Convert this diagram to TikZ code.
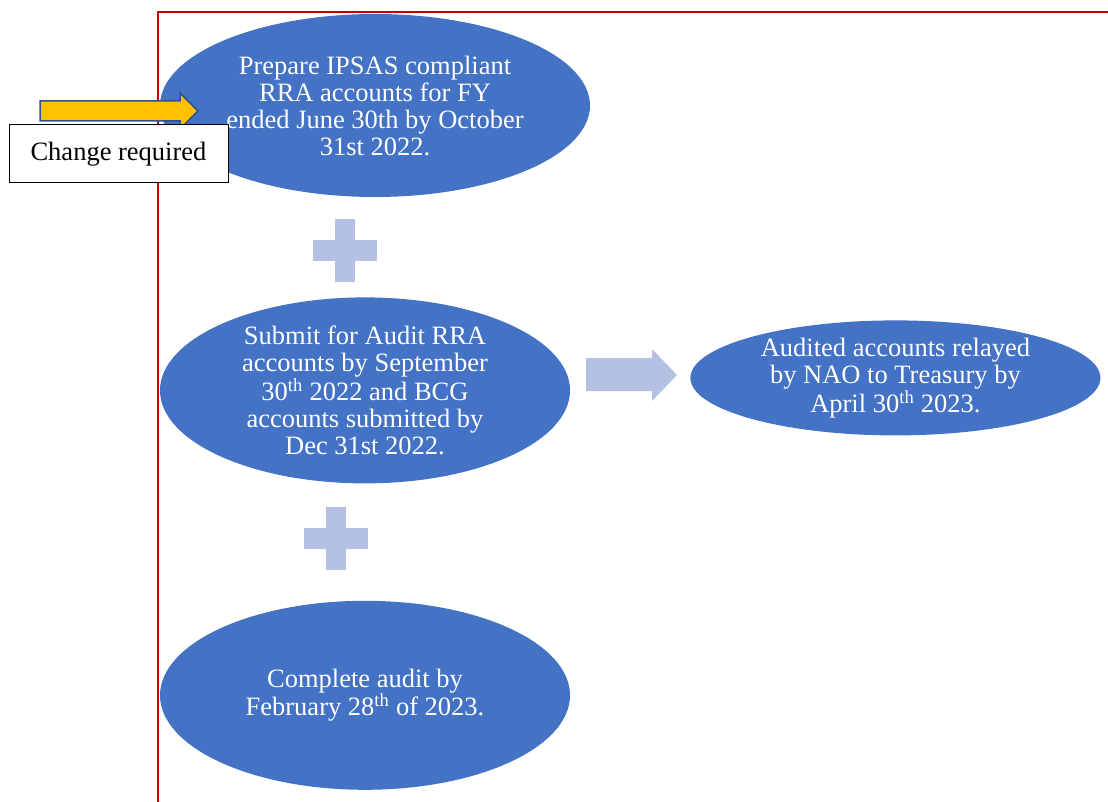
\documentclass[tikz,border=0pt]{standalone}
\usepackage{fontspec}
\setmainfont{Liberation Serif}
\usepackage{tikz}
\usetikzlibrary{shapes.geometric,positioning,calc}

\definecolor{stageblue}{HTML}{4472C4}
\definecolor{plusblue}{HTML}{B4C1E2}
\definecolor{flagyellow}{HTML}{FFC000}
\definecolor{flagedge}{HTML}{2F528F}
\definecolor{marginred}{HTML}{C00000}

\begin{document}
\begin{tikzpicture}[
  x=1pt, y=-1pt,
  stage/.style={ellipse, fill=stageblue, text=white, align=center,
    inner sep=0pt, font=\fontsize{26.5}{27}\selectfont},
  note/.style={rectangle, draw=black, fill=white, line width=1pt,
    minimum width=219pt, minimum height=58pt, inner sep=0pt,
    font=\fontsize{26.5}{27}\selectfont},
  plusmark/.pic={
    \fill[plusblue] (-32,-10.5) rectangle (32,10.5);
    \fill[plusblue] (-10,-31.5) rectangle (10,31.5);
  },
]
  \useasboundingbox (0,0) rectangle (1108,802);

  % red margin
  \draw[marginred, line width=1.5pt] (158,802) -- (158,12) -- (1108,12);

  \node[stage, minimum width=430pt, minimum height=183pt] (prepare) at (375,105.5)
    {Prepare IPSAS compliant\\RRA accounts for FY\\ended June 30th by October\\31st 2022.};
  \node[stage, minimum width=410pt, minimum height=186pt,
    below=100pt of prepare, xshift=-10pt] (submit)
    {Submit for Audit RRA\\accounts by September\\30\textsuperscript{th} 2022 and BCG\\accounts submitted by\\Dec 31st 2022.};
  \node[stage, minimum width=410pt, minimum height=115pt,
    right=120pt of submit, yshift=12.5pt] (relay)
    {Audited accounts relayed\\by NAO to Treasury by\\April 30\textsuperscript{th} 2023.};
  \node[stage, minimum width=410pt, minimum height=189pt,
    below=117pt of submit] (complete)
    {Complete audit by\\February 28\textsuperscript{th} of 2023.};

  % plus signs between the stages
  \pic at (345,250.5) {plusmark};
  \pic at (336,538.5) {plusmark};

  % block arrow to the treasury step
  \fill[plusblue] (586,358) -- (652,358) -- (652,349) -- (677,375)
    -- (652,401) -- (652,391) -- (586,391) -- cycle;

  % flag
  \draw[flagedge, fill=flagyellow, line width=1.5pt, line join=miter]
    (40,101) -- (180,101) -- (180,93) -- (198,111) -- (180,129)
    -- (180,121) -- (40,121) -- cycle;
  \node[note] (change) at (118.5,154) {Change required};
\end{tikzpicture}
\end{document}
